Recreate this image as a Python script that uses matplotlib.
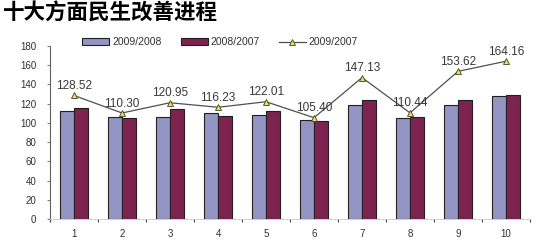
import matplotlib
matplotlib.use("Agg")
import matplotlib.pyplot as plt
import numpy as np

plt.rcParams['font.family'] = ['Liberation Sans', 'DejaVu Sans']

categories = ['1', '2', '3', '4', '5', '6', '7', '8', '9', '10']
s_2009_2008 = [112.4, 106.5, 106.5, 110.0, 108.6, 102.8, 118.3, 105.0, 118.3, 127.6]
s_2008_2007 = [115.5, 105.0, 114.5, 107.0, 112.7, 101.8, 124.0, 106.0, 124.0, 128.6]
s_2009_2007 = [128.52, 110.30, 120.95, 116.23, 122.01, 105.40, 147.13, 110.44, 153.62, 164.16]
line_labels = ['128.52', '110.30', '120.95', '116.23', '122.01', '105.40', '147.13', '110.44', '153.62', '164.16']
legend_names = ['2009/2008', '2008/2007', '2009/2007']
title = '十大方面民生改善进程'
yticks = [0, 20, 40, 60, 80, 100, 120, 140, 160, 180]

fig = plt.figure(figsize=(5.48, 2.45), dpi=100)
ax = fig.add_axes([50/548, 1-219/245, 480/548, 173/245])

x = np.arange(len(categories))
w = 0.3
b1 = ax.bar(x - w/2, s_2009_2008, width=w, color='#9494C2', edgecolor='#202020', linewidth=0.8, label=legend_names[0], zorder=2)
b2 = ax.bar(x + w/2, s_2008_2007, width=w, color='#7E2350', edgecolor='#202020', linewidth=0.8, label=legend_names[1], zorder=2)
l1, = ax.plot(x, s_2009_2007, color='#505050', linewidth=0.9, marker='^', markersize=5,
        markerfacecolor='#E8E060', markeredgecolor='#404020', markeredgewidth=0.6,
        label=legend_names[2], zorder=3)
for xi, v, lab in zip(x, s_2009_2007, line_labels):
    ax.text(xi, v + 3.5, lab, ha='center', va='bottom', fontsize=8.5, color='#383838', zorder=4)

ax.set_xlim(-0.5, len(categories) - 0.5)
ax.set_ylim(0, 180)
ax.set_yticks(yticks)
ax.set_yticklabels([str(t) for t in yticks], fontsize=7, color='#303030')
ax.set_xticks(x)
ax.set_xticklabels(categories, fontsize=7, color='#303030')
ax.tick_params(axis='x', length=0, pad=7)
ax.tick_params(axis='y', length=2, width=0.6, pad=8, color='#606060')
ax.set_xticks(np.arange(len(categories) + 1) - 0.5, minor=True)
ax.tick_params(axis='x', which='minor', length=2, width=0.8, color='#404040')
for s in ['top', 'right']:
    ax.spines[s].set_visible(False)
ax.spines['left'].set_color('#606060')
ax.spines['left'].set_linewidth(0.8)
ax.spines['bottom'].set_color('#c8c8c8')
ax.spines['bottom'].set_linewidth(0.6)

leg = ax.legend(handles=[b1, b2, l1], loc='upper left', bbox_to_anchor=(28/480, 1.075), ncol=3, frameon=False,
                fontsize=7.5, handlelength=2.6, handleheight=0.6, columnspacing=1.8, handletextpad=0.3,
                borderaxespad=0)
for t in leg.get_texts():
    t.set_color('#303030')

fig.text(0.005, 0.99, title, fontsize=15.5, fontweight='bold', ha='left', va='top',
         family=['Noto Sans CJK SC', 'DejaVu Sans'], color='black')

fig.savefig('out.png', dpi=100)
